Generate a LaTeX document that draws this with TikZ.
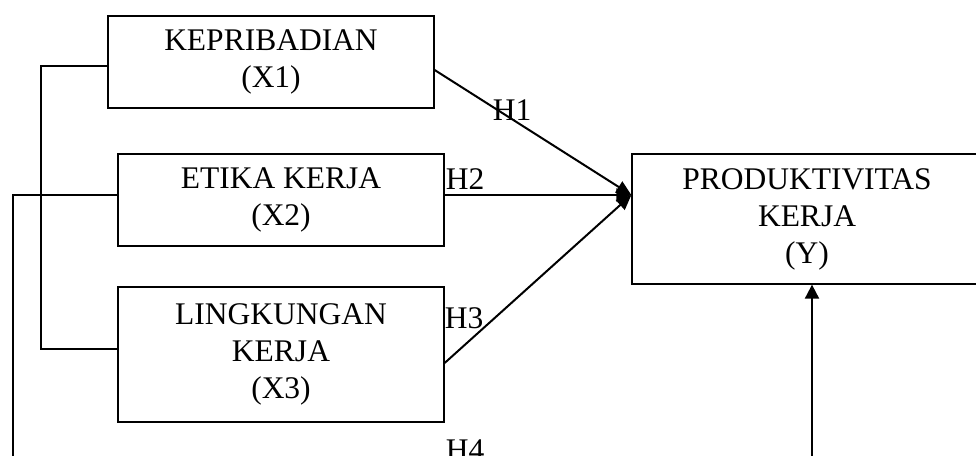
\documentclass[tikz,border=0pt]{standalone}
\usepackage{fontspec}
\setmainfont{Liberation Serif}
\usetikzlibrary{arrows.meta,calc}
\tikzset{
  box/.style={draw, line width=1.3pt, inner sep=0pt, align=center,
    font=\fontsize{31.5}{37}\selectfont},
  conn/.style={line width=2pt},
  thin conn/.style={line width=1.4pt},
  arr/.style={conn, -{Triangle[length=15pt,width=13pt]}},
  lab/.style={anchor=base, inner sep=0pt, font=\fontsize{31.5}{37}\selectfont},
}
\begin{document}
\begin{tikzpicture}[x=1pt,y=-1pt]
\useasboundingbox (0,0) rectangle (976,455);
\clip (0,0) rectangle (976,455);
\node[box, minimum width=326pt, minimum height=92pt] (X1) at (271,62) {KEPRIBADIAN\\(X1)};
\node[box, minimum width=326pt, minimum height=92pt] (X2) at (281,200) {ETIKA KERJA\\(X2)};
\node[box, minimum width=326pt, minimum height=135pt] (X3) at (281,354.5) {LINGKUNGAN\\KERJA\\(X3)};
\node[box, minimum width=350pt, minimum height=130pt] (Y) at (807,219) {PRODUKTIVITAS\\KERJA\\(Y)};
\coordinate (tip) at ([yshift=24pt]Y.west);
\draw[arr] ([yshift=-8pt]X1.east) -- (tip);
\draw[arr] ([yshift=5pt]X2.east) -- (tip);
\draw[arr] ([yshift=-8.5pt]X3.east) -- (tip);
\coordinate (l3) at ([yshift=5.5pt]X3.west);
\coordinate (lb1) at (41,0);
\draw[thin conn] ([yshift=-4pt]X1.west) -| (lb1 |- l3) -- (l3);
\coordinate (lb2) at (13,480);
\draw[conn] ([yshift=5pt]X2.west) -| (lb2);
\coordinate (bot) at (812,480);
\draw[conn, -{Triangle[length=14pt,width=14pt]}] (bot) -- (bot |- Y.south);
\node[lab] (h1) at (512,120) {H1};
\node[lab] (h2) at (465,189) {H2};
\node[lab] (h3) at (464,328) {H3};
\node[lab] (h4) at (465,460) {H4};
\end{tikzpicture}
\end{document}
